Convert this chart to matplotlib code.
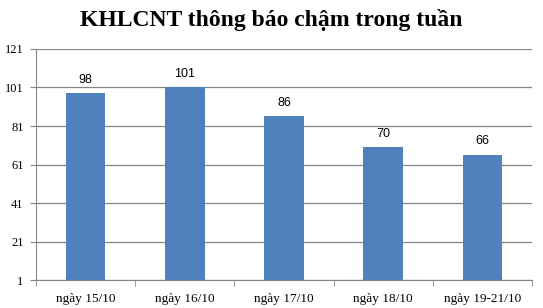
import matplotlib.pyplot as plt

categories = ["ngày 15/10", "ngày 16/10", "ngày 17/10", "ngày 18/10", "ngày 19-21/10"]
values = [98, 101, 86, 70, 66]
y_ticks = [1, 21, 41, 61, 81, 101, 121]

fig = plt.figure(figsize=(5.43, 3.08), dpi=100)
ax = fig.add_axes([0.0663, 0.0893, 0.9134, 0.752])

x = list(range(len(categories)))
bars = ax.bar(x, values, width=0.40, color="#4F81BD", zorder=3)
for b, v in zip(bars, values):
    ax.text(b.get_x() + b.get_width() / 2, v + 4, str(v), ha="center", va="bottom",
            fontsize=9, family="Liberation Sans")

ax.set_xlim(-0.5, len(categories) - 0.5)
ax.set_ylim(1, 121)
ax.set_yticks(y_ticks)
ax.set_yticklabels([str(t) for t in y_ticks], family="Liberation Serif", fontsize=9)
ax.yaxis.grid(True, color="#868686", linewidth=0.9, zorder=0)

ax.set_xticks(x)
ax.set_xticklabels(categories, family="Liberation Serif", fontsize=9.5)
ax.set_xticks([i - 0.5 for i in range(len(categories) + 1)], minor=True)
ax.tick_params(axis="x", which="major", length=0, pad=9)
ax.tick_params(axis="x", which="minor", length=4, color="#868686")
ax.tick_params(axis="y", length=4, color="#868686", pad=5)

for s in ["top", "right"]:
    ax.spines[s].set_visible(False)
for s in ["left", "bottom"]:
    ax.spines[s].set_color("#868686")

fig.text(0.5, 0.935, "KHLCNT thông báo chậm trong tuần", ha="center", va="center",
         fontsize=17, fontweight="bold", family="Liberation Serif")

fig.savefig("out.png", dpi=100)
